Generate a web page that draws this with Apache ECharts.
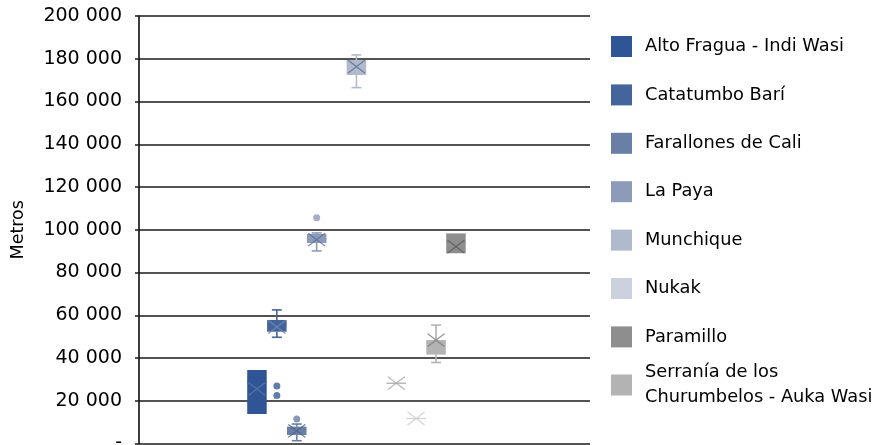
<!DOCTYPE html>
<html>
<head>
<meta charset="utf-8">
<script src="https://cdn.jsdelivr.net/npm/echarts@6/dist/echarts.min.js"></script>
<style>
  html, body { margin: 0; padding: 0; background: #fff; }
  #chart { width: 878px; height: 445px; }
</style>
</head>
<body>
<div id="chart"></div>
<script>
// posiciones en el eje (incluye huecos sin datos)
const slots = ['Alto Fragua - Indi Wasi', 'Catatumbo Barí', 'Farallones de Cali', 'La Paya', 'vacío 5',
  'Munchique', 'vacío 7', 'Sin nombre', 'Nukak', 'Serranía de los Churumbelos - Auka Wasi', 'Paramillo', 'vacío 12'];

// leyenda
const legendNames = ['Alto Fragua - Indi Wasi', 'Catatumbo Barí', 'Farallones de Cali', 'La Paya',
  'Munchique', 'Nukak', 'Paramillo', 'Serranía de los Churumbelos - Auka Wasi'];

// series con datos
const seriesNames = ['Alto Fragua - Indi Wasi', 'Catatumbo Barí', 'Farallones de Cali', 'La Paya',
  'Munchique', 'Sin nombre', 'Nukak', 'Serranía de los Churumbelos - Auka Wasi', 'Paramillo'];
const minValues    = [13800, 49700, 1300,  90100, 166500, 28200, 11700, 37900, 89000];
const q1Values     = [13800, 52300, 4000,  93800, 172400, 28200, 11700, 41600, 89000];
const medianValues = [28800, 55900, 6300,  95700, 176600, 28200, 11700, 47000, 94000];
const q3Values     = [34400, 57800, 7900,  98000, 179400, 28200, 11700, 48400, 98300];
const maxValues    = [34400, 62500, 9100,  98500, 181800, 28200, 11700, 55400, 98300];
const meanValues   = [25500, 54500, 5900,  95400, 176300, 28200, 11700, 48400, 92100];
const outlierValues = [[], [26900, 22400], [11500], [105600], [], [], [], [], []];

// eje Y
const yTicks = [0, 20000, 40000, 60000, 80000, 100000, 120000, 140000, 160000, 180000, 200000];

const seriesColors  = ['#2F5597', '#44649C', '#6A7FA6', '#8D9BB8', '#B1BACD', '#A8A8A8', '#CBD2DE', '#B3B3B3', '#8E8E8E'];
const markColors    = ['#5875A8', '#6F88B4', '#4B618D', '#5C6F98', '#5A6D93', '#A8A8A8', '#CFCFCF', '#7B7B7B', '#575757'];
const outlierColors = ['#2F5597', '#3A5A95', '#6A7FA6', '#8D9BB8', '#B1BACD', '#A8A8A8', '#CBD2DE', '#B3B3B3', '#8E8E8E'];

const FONT = 'DejaVu Sans';

function renderBox(params, api) {
  const x = api.value(0);
  const lo = api.coord([x, api.value(1)]);
  const q1 = api.coord([x, api.value(2)]);
  const md = api.coord([x, api.value(3)]);
  const q3 = api.coord([x, api.value(4)]);
  const hi = api.coord([x, api.value(5)]);
  const band = api.size([1, 0])[0];
  const w = band * 0.98;
  const cap = band * 0.5;
  const cx = lo[0];
  const color = api.visual('color');
  const line = { stroke: color, lineWidth: 1.6 };
  const children = [];
  if (lo[1] - q1[1] > 0.5) {
    children.push({ type: 'line', shape: { x1: cx, y1: q1[1], x2: cx, y2: lo[1] }, style: line });
    children.push({ type: 'line', shape: { x1: cx - cap / 2, y1: lo[1], x2: cx + cap / 2, y2: lo[1] }, style: line });
  }
  if (q3[1] - hi[1] > 0.5) {
    children.push({ type: 'line', shape: { x1: cx, y1: q3[1], x2: cx, y2: hi[1] }, style: line });
    children.push({ type: 'line', shape: { x1: cx - cap / 2, y1: hi[1], x2: cx + cap / 2, y2: hi[1] }, style: line });
  }
  children.push({ type: 'rect', shape: { x: cx - w / 2, y: q3[1], width: w, height: q1[1] - q3[1] }, style: { fill: color } });
  children.push({ type: 'line', shape: { x1: cx - w / 2, y1: md[1], x2: cx + w / 2, y2: md[1] }, style: { stroke: color, lineWidth: 1.2 } });
  return { type: 'group', children: children };
}

const series = [];
seriesNames.forEach(function (name, i) {
  series.push({
    name: name,
    type: 'custom',
    xAxisIndex: 1,
    yAxisIndex: 1,
    renderItem: renderBox,
    itemStyle: { color: seriesColors[i] },
    encode: { x: 0, y: [1, 2, 3, 4, 5] },
    data: [[name, minValues[i], q1Values[i], medianValues[i], q3Values[i], maxValues[i]]],
    z: 2
  });
});
seriesNames.forEach(function (name, i) {
  series.push({
    name: name,
    type: 'scatter',
    xAxisIndex: 1,
    yAxisIndex: 1,
    symbol: 'path://M0,0L10,10M10,0L0,10',
    symbolSize: [17, 13],
    itemStyle: { color: 'none', borderColor: markColors[i], borderWidth: 1.3 },
    data: [[name, meanValues[i]]],
    z: 3
  });
  if (outlierValues[i].length) {
    series.push({
      name: name,
      type: 'scatter',
      xAxisIndex: 1,
      yAxisIndex: 1,
      symbol: 'circle',
      symbolSize: 7,
      itemStyle: { color: outlierColors[i] },
      data: outlierValues[i].map(function (v) { return [name, v]; }),
      z: 3
    });
  }
});

function legendItem(n) {
  return { name: n, itemStyle: { color: seriesColors[seriesNames.indexOf(n)], borderWidth: 0 } };
}
const legendBase = {
  orient: 'vertical',
  left: 611,
  padding: 0,
  itemWidth: 21,
  itemHeight: 21,
  itemGap: 25.4,
  icon: 'rect',
  selectedMode: false,
  formatter: function (n) {
    return n.replace(' de los Churumbelos', ' de los\nChurumbelos');
  },
  textStyle: { fontFamily: FONT, fontSize: 17.8, color: '#000', lineHeight: 23, padding: [0, 0, 0, 8] }
};

const chart = echarts.init(document.getElementById('chart'));
chart.setOption({
  animation: false,
  textStyle: { fontFamily: FONT },
  legend: [
    Object.assign({}, legendBase, { top: 35, data: legendNames.slice(0, 7).map(legendItem) }),
    Object.assign({}, legendBase, {
      top: 360,
      data: legendNames.slice(7).map(legendItem),
      textStyle: Object.assign({}, legendBase.textStyle, { lineHeight: 25 })
    })
  ],
  grid: [
    { left: 139, right: 288, top: 16, bottom: 1.5, outerBoundsMode: 'none' },
    { left: 247, right: 392.2, top: 16, bottom: 1.5, outerBoundsMode: 'none' }
  ],
  xAxis: [
    { gridIndex: 0, type: 'category', data: [''], show: false },
    { gridIndex: 1, type: 'category', data: slots, show: false }
  ],
  yAxis: [
    {
      gridIndex: 0,
      type: 'value',
      min: yTicks[0],
      max: yTicks[yTicks.length - 1],
      interval: yTicks[1] - yTicks[0],
      name: 'Metros',
      nameLocation: 'middle',
      nameGap: 112,
      nameTextStyle: { fontFamily: FONT, fontSize: 17.5, color: '#000' },
      axisLine: { show: true, lineStyle: { color: '#1a1a1a', width: 1.7 } },
      axisTick: { show: true, length: 4, lineStyle: { color: '#1a1a1a', width: 1.5 } },
      axisLabel: {
        margin: 17,
        fontFamily: FONT,
        fontSize: 19,
        color: '#000',
        formatter: function (v) {
          if (v === 0) return '-';
          return String(v).replace(/\B(?=(\d{3})+(?!\d))/g, ' ');
        }
      },
      splitLine: { show: true, lineStyle: { color: '#1a1a1a', width: 1.7 } }
    },
    { gridIndex: 1, type: 'value', min: yTicks[0], max: yTicks[yTicks.length - 1], show: false }
  ],
  series: series
});
</script>
</body>
</html>
